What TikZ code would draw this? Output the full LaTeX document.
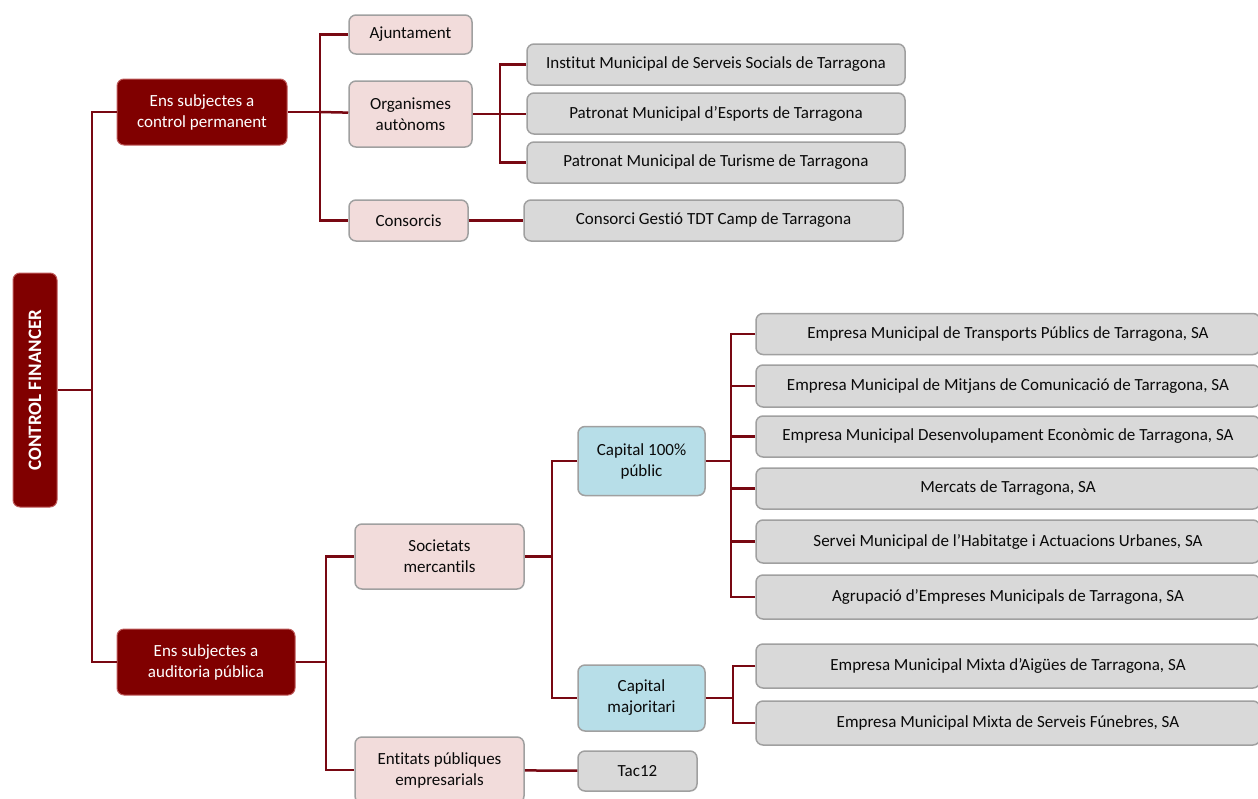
\documentclass[tikz,border=0pt]{standalone}
\usepackage{fontspec}
\setmainfont{Carlito}[Ligatures=NoCommon]
\definecolor{dred}{RGB}{128,0,0}
\definecolor{dredb}{RGB}{190,90,90}
\definecolor{lnred}{RGB}{120,8,18}
\definecolor{pinkf}{RGB}{242,220,219}
\definecolor{bluef}{RGB}{183,222,232}
\definecolor{grayf}{RGB}{217,217,217}
\definecolor{bordg}{RGB}{160,160,160}
\definecolor{txt}{RGB}{10,10,10}
\begin{document}
\begin{tikzpicture}[x=1pt,y=-1pt,
  base/.style={rounded corners=7pt, align=center, inner sep=0pt, line width=1.5pt,
     font=\fontsize{17}{21}\selectfont, text=txt},
  dbox/.style={base, fill=dred, draw=dredb, line width=1pt, text=white},
  pbox/.style={base, fill=pinkf, draw=bordg},
  bbox/.style={base, fill=bluef, draw=bordg},
  gbox/.style={base, fill=grayf, draw=bordg},
  conn/.style={draw=lnred, line width=2.5pt}]
\useasboundingbox (0,0) rectangle (1258,798);

% level 0
\node[dbox, rotate=90, minimum width=234pt, minimum height=44pt, font=\fontsize{19}{22}\selectfont\bfseries] (cf) at (35,390) {CONTROL FINANCER};

% level 1
\node[dbox, minimum width=170pt, minimum height=66pt] (cp) at (202,112) {Ens subjectes a\\control permanent};
\node[dbox, minimum width=178pt, minimum height=66pt] (ap) at (206,662) {Ens subjectes a\\auditoria pública};

% control permanent branch
\node[pbox, minimum width=123pt, minimum height=39pt] (aj) at (410.5,34.5) {Ajuntament};
\node[pbox, minimum width=123pt, minimum height=66pt] (oa) at (410.5,114) {Organismes\\autònoms};
\node[pbox, minimum width=119pt, minimum height=41pt] (co) at (408.5,220.5) {Consorcis};

\node[gbox, minimum width=378pt, minimum height=41pt] (i1) at (716,64.5) {Institut Municipal de Serveis Socials de Tarragona};
\node[gbox, minimum width=378pt, minimum height=41pt] (i2) at (716,113.5) {Patronat Municipal d’Esports de Tarragona};
\node[gbox, minimum width=378pt, minimum height=41pt] (i3) at (716,162.5) {Patronat Municipal de Turisme de Tarragona};
\node[gbox, minimum width=379pt, minimum height=41pt] (tdt) at (713.5,220.5) {Consorci Gestió TDT Camp de Tarragona};

% auditoria branch
\node[pbox, minimum width=169pt, minimum height=65pt] (sm) at (439.5,556.5) {Societats\\mercantils};
\node[pbox, minimum width=169pt, minimum height=66pt] (ep) at (439.5,770) {Entitats públiques\\empresarials};
\node[bbox, minimum width=127pt, minimum height=69pt] (c100) at (641.5,461) {Capital 100\%\\públic};
\node[bbox, minimum width=127pt, minimum height=66pt] (cmaj) at (641.5,698) {Capital\\majoritari};
\node[gbox, minimum width=119pt, minimum height=40pt] (tac) at (637.5,771) {Tac12};

\node[gbox, minimum width=504pt, minimum height=41pt] (e1) at (1008,334) {Empresa Municipal de Transports Públics de Tarragona, SA};
\node[gbox, minimum width=504pt, minimum height=42pt] (e2) at (1008,386) {Empresa Municipal de Mitjans de Comunicació de Tarragona, SA};
\node[gbox, minimum width=504pt, minimum height=41pt] (e3) at (1008,436.5) {Empresa Municipal Desenvolupament Econòmic de Tarragona, SA};
\node[gbox, minimum width=504pt, minimum height=41pt] (e4) at (1008,488.5) {Mercats de Tarragona, SA};
\node[gbox, minimum width=504pt, minimum height=43pt] (e5) at (1008,541.5) {Servei Municipal de l’Habitatge i Actuacions Urbanes, SA};
\node[gbox, minimum width=504pt, minimum height=44pt] (e6) at (1008,597) {Agrupació d’Empreses Municipals de Tarragona, SA};
\node[gbox, minimum width=504pt, minimum height=44pt] (e7) at (1008,666) {Empresa Municipal Mixta d’Aigües de Tarragona, SA};
\node[gbox, minimum width=504pt, minimum height=44pt] (e8) at (1008,723) {Empresa Municipal Mixta de Serveis Fúnebres, SA};

% junctions
\coordinate (j0) at (92,390);
\coordinate (j1) at (320,112);
\coordinate (j2) at (500,114);
\coordinate (j3) at (326,662);
\coordinate (j4) at (552,556.5);
\coordinate (j5) at (731,461);
\coordinate (j6) at (733,698);

% connectors
\draw[conn] (cf) -- (j0);
\draw[conn] (cp.west) -| (j0) |- (ap.west);
\draw[conn] (cp) -- (j1);
\draw[conn] (aj.west) -| (j1) |- (co.west);
\draw[conn] (j1) -- (oa);
\draw[conn] (oa) -- (j2);
\draw[conn] (i1.west) -| (j2) |- (i3.west);
\draw[conn] (j2) -- (i2.west |- j2);
\draw[conn] (co) -- (tdt);
\draw[conn] (ap) -- (j3);
\draw[conn] (sm.west) -| (j3) |- (ep.west);
\draw[conn] (sm) -- (j4);
\draw[conn] (c100.west) -| (j4) |- (cmaj.west);
\draw[conn] (c100) -- (j5);
\draw[conn] (e1.west) -| (j5) |- (e6.west);
\draw[conn] (e2.west) -- (e2.west -| j5);
\draw[conn] (e3.west) -- (e3.west -| j5);
\draw[conn] (e4.west) -- (e4.west -| j5);
\draw[conn] (e5.west) -- (e5.west -| j5);
\draw[conn] (cmaj) -- (j6);
\draw[conn] (e7.west) -| (j6) |- (e8.west);
\draw[conn] (ep) -- (tac);
\end{tikzpicture}
\end{document}
